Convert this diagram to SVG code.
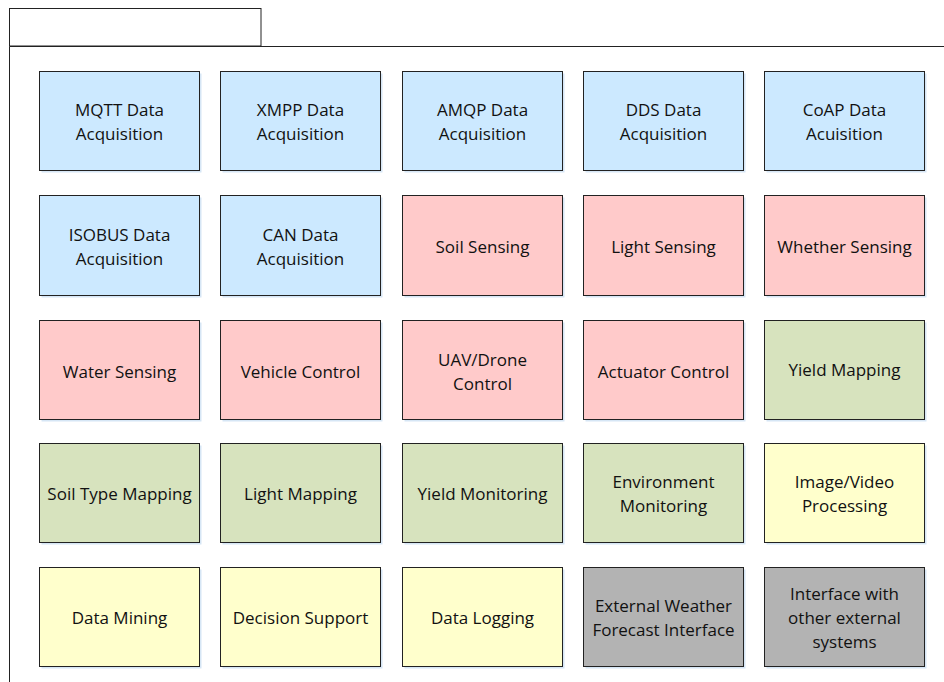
<svg xmlns="http://www.w3.org/2000/svg" width="944" height="682" viewBox="0 0 944 682">
<style>
.n rect.b{stroke:#222;stroke-width:1}
.n rect.s{fill:#d6e6f5}
.n text{font-family:"Open Sans","Liberation Sans",sans-serif;font-size:17px;fill:#111;text-anchor:middle;dominant-baseline:central}
.blue{fill:#cce9ff}.pink{fill:#ffcaca}.green{fill:#d7e3be}.yellow{fill:#ffffcc}.gray{fill:#b3b3b3}
</style>
<rect width="944" height="682" fill="#fff"/>
<g id="frame" fill="none" stroke="#222" stroke-width="1">
<rect x="9.5" y="8.5" width="251.5" height="37.5" fill="#fff"/>
<path d="M9.5 46.5H944M9.5 46.5V682"/>
</g>
<g id="connectors"/>
<g id="n1" class="n"><rect class="s" x="41.5" y="73.5" width="160" height="99"/><rect class="b blue" x="39.5" y="71.5" width="160" height="99"/><text x="119.5" y="109">MQTT Data</text><text x="119.5" y="133">Acquisition</text></g>
<g id="n2" class="n"><rect class="s" x="222.5" y="73.5" width="160" height="99"/><rect class="b blue" x="220.5" y="71.5" width="160" height="99"/><text x="300.5" y="109">XMPP Data</text><text x="300.5" y="133">Acquisition</text></g>
<g id="n3" class="n"><rect class="s" x="404.5" y="73.5" width="160" height="99"/><rect class="b blue" x="402.5" y="71.5" width="160" height="99"/><text x="482.5" y="109">AMQP Data</text><text x="482.5" y="133">Acquisition</text></g>
<g id="n4" class="n"><rect class="s" x="585.5" y="73.5" width="160" height="99"/><rect class="b blue" x="583.5" y="71.5" width="160" height="99"/><text x="663.5" y="109">DDS Data</text><text x="663.5" y="133">Acquisition</text></g>
<g id="n5" class="n"><rect class="s" x="766.5" y="73.5" width="160" height="99"/><rect class="b blue" x="764.5" y="71.5" width="160" height="99"/><text x="844.5" y="109">CoAP Data</text><text x="844.5" y="133">Acuisition</text></g>

<g id="n6" class="n"><rect class="s" x="41.5" y="197.5" width="160" height="100"/><rect class="b blue" x="39.5" y="195.5" width="160" height="100"/><text x="119.5" y="234">ISOBUS Data</text><text x="119.5" y="258">Acquisition</text></g>
<g id="n7" class="n"><rect class="s" x="222.5" y="197.5" width="160" height="100"/><rect class="b blue" x="220.5" y="195.5" width="160" height="100"/><text x="300.5" y="234">CAN Data</text><text x="300.5" y="258">Acquisition</text></g>
<g id="n8" class="n"><rect class="s" x="404.5" y="197.5" width="160" height="100"/><rect class="b pink" x="402.5" y="195.5" width="160" height="100"/><text x="482.5" y="246">Soil Sensing</text></g>
<g id="n9" class="n"><rect class="s" x="585.5" y="197.5" width="160" height="100"/><rect class="b pink" x="583.5" y="195.5" width="160" height="100"/><text x="663.5" y="246">Light Sensing</text></g>
<g id="n10" class="n"><rect class="s" x="766.5" y="197.5" width="160" height="100"/><rect class="b pink" x="764.5" y="195.5" width="160" height="100"/><text x="844.5" y="246">Whether Sensing</text></g>

<g id="n11" class="n"><rect class="s" x="41.5" y="322.5" width="160" height="99"/><rect class="b pink" x="39.5" y="320.5" width="160" height="99"/><text x="119.5" y="371">Water Sensing</text></g>
<g id="n12" class="n"><rect class="s" x="222.5" y="322.5" width="160" height="99"/><rect class="b pink" x="220.5" y="320.5" width="160" height="99"/><text x="300.5" y="371">Vehicle Control</text></g>
<g id="n13" class="n"><rect class="s" x="404.5" y="322.5" width="160" height="99"/><rect class="b pink" x="402.5" y="320.5" width="160" height="99"/><text x="482.5" y="359">UAV/Drone</text><text x="482.5" y="383">Control</text></g>
<g id="n14" class="n"><rect class="s" x="585.5" y="322.5" width="160" height="99"/><rect class="b pink" x="583.5" y="320.5" width="160" height="99"/><text x="663.5" y="371">Actuator Control</text></g>
<g id="n15" class="n"><rect class="s" x="766.5" y="322.5" width="160" height="99"/><rect class="b green" x="764.5" y="320.5" width="160" height="99"/><text x="844.5" y="369">Yield Mapping</text></g>

<g id="n16" class="n"><rect class="s" x="41.5" y="445.5" width="160" height="99"/><rect class="b green" x="39.5" y="443.5" width="160" height="99"/><text x="119.5" y="493">Soil Type Mapping</text></g>
<g id="n17" class="n"><rect class="s" x="222.5" y="445.5" width="160" height="99"/><rect class="b green" x="220.5" y="443.5" width="160" height="99"/><text x="300.5" y="493">Light Mapping</text></g>
<g id="n18" class="n"><rect class="s" x="404.5" y="445.5" width="160" height="99"/><rect class="b green" x="402.5" y="443.5" width="160" height="99"/><text x="482.5" y="493">Yield Monitoring</text></g>
<g id="n19" class="n"><rect class="s" x="585.5" y="445.5" width="160" height="99"/><rect class="b green" x="583.5" y="443.5" width="160" height="99"/><text x="663.5" y="481">Environment</text><text x="663.5" y="505">Monitoring</text></g>
<g id="n20" class="n"><rect class="s" x="766.5" y="445.5" width="160" height="99"/><rect class="b yellow" x="764.5" y="443.5" width="160" height="99"/><text x="844.5" y="481">Image/Video</text><text x="844.5" y="505">Processing</text></g>

<g id="n21" class="n"><rect class="s" x="41.5" y="569.5" width="160" height="99"/><rect class="b yellow" x="39.5" y="567.5" width="160" height="99"/><text x="119.5" y="617">Data Mining</text></g>
<g id="n22" class="n"><rect class="s" x="222.5" y="569.5" width="160" height="99"/><rect class="b yellow" x="220.5" y="567.5" width="160" height="99"/><text x="300.5" y="617">Decision Support</text></g>
<g id="n23" class="n"><rect class="s" x="404.5" y="569.5" width="160" height="99"/><rect class="b yellow" x="402.5" y="567.5" width="160" height="99"/><text x="482.5" y="617">Data Logging</text></g>
<g id="n24" class="n"><rect class="s" x="585.5" y="569.5" width="160" height="99"/><rect class="b gray" x="583.5" y="567.5" width="160" height="99"/><text x="663.5" y="605">External Weather</text><text x="663.5" y="629">Forecast Interface</text></g>
<g id="n25" class="n"><rect class="s" x="766.5" y="569.5" width="160" height="99"/><rect class="b gray" x="764.5" y="567.5" width="160" height="99"/><text x="844.5" y="593">Interface with</text><text x="844.5" y="617">other external</text><text x="844.5" y="641">systems</text></g>
</svg>
